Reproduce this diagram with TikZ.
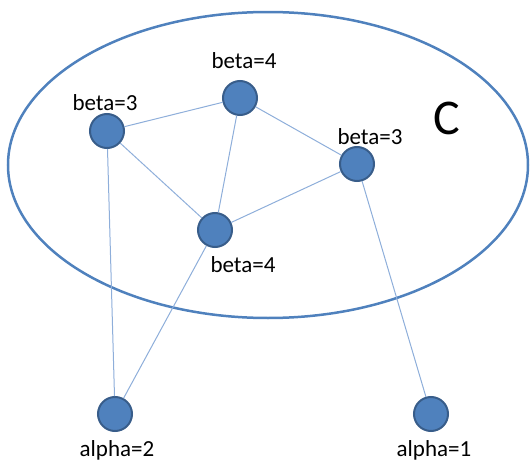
\documentclass[tikz,border=0pt]{standalone}
\usepackage{fontspec}
\setmainfont{Carlito}
\definecolor{nodefill}{HTML}{4F81BD}
\definecolor{nodeline}{HTML}{385D8A}
\definecolor{edgecol}{HTML}{8EAEDA}
\begin{document}
\begin{tikzpicture}[x=1pt,y=-1pt,
  vertex/.style={circle,fill=nodefill,draw=nodeline,line width=2pt,minimum size=34pt,inner sep=0pt},
  lbl/.style={font=\fontsize{23}{26}\selectfont,inner sep=0pt},
  edge/.style={draw=edgecol,line width=1pt}]
\useasboundingbox (0,0) rectangle (531,463);
% the cluster C
\draw[nodefill,line width=2.5pt] (268,165) ellipse [x radius=260, y radius=153];
\node[font=\fontsize{50}{54}\selectfont,inner sep=0pt] (c) at (447,118) {C};
% vertices
\node[vertex] (bl) at (107,131) {};
\node[vertex] (bt) at (240,98) {};
\node[vertex] (br) at (357,164) {};
\node[vertex] (bm) at (215,230) {};
\node[vertex] (a2) at (115,414) {};
\node[vertex] (a1) at (431,414) {};
% labels
\node[lbl] (lbl-bt) at (244,61) {beta=4};
\node[lbl] (lbl-bl) at (105,103) {beta=3};
\node[lbl] (lbl-br) at (370,137) {beta=3};
\node[lbl] (lbl-bm) at (243,265) {beta=4};
\node[lbl] (lbl-a2) at (117,450) {alpha=2};
\node[lbl] (lbl-a1) at (434,450) {alpha=1};
% edges
\path[edge] (bl) -- (bt);
\path[edge] (bl) -- (bm);
\path[edge] (bl) -- (a2);
\path[edge] (bt) -- (bm);
\path[edge] (bt) -- (br);
\path[edge] (bm) -- (br);
\path[edge] (bm) -- (a2);
\path[edge] (br) -- (a1);
\end{tikzpicture}
\end{document}
